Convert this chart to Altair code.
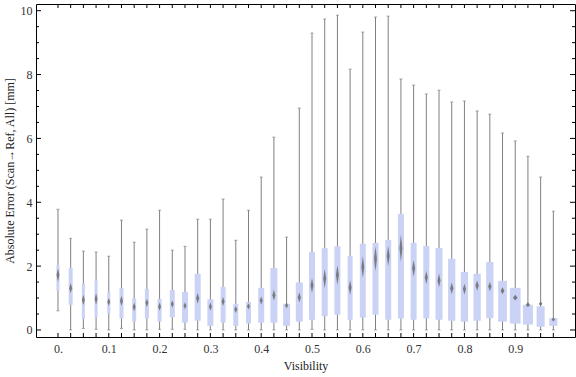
import altair as alt
import pandas as pd

# ---- data ----
visibility = [0.0, 0.025, 0.05, 0.075, 0.1, 0.125, 0.15, 0.175, 0.2, 0.225,
              0.25, 0.275, 0.3, 0.325, 0.35, 0.375, 0.4, 0.425, 0.45, 0.475,
              0.5, 0.525, 0.55, 0.575, 0.6, 0.625, 0.65, 0.675, 0.7, 0.725,
              0.75, 0.775, 0.8, 0.825, 0.85, 0.875, 0.9, 0.925, 0.95, 0.975]
whisker_low = [0.60, 0.0, 0.05, 0.02, 0.0, 0.05, 0.0, 0.0, 0.02, 0.02,
               0.02, 0.0, 0.0, 0.0, 0.0, 0.0, 0.0, 0.0, 0.0, 0.0,
               0.02, 0.0, 0.0, 0.0, 0.0, 0.0, 0.0, 0.0, 0.0, 0.0,
               0.0, 0.0, 0.0, 0.0, 0.0, 0.0, 0.0, 0.0, 0.0, 0.0]
q1 = [1.23, 0.79, 0.34, 0.40, 0.51, 0.36, 0.26, 0.36, 0.26, 0.40,
      0.23, 0.29, 0.13, 0.23, 0.13, 0.20, 0.23, 0.23, 0.13, 0.26,
      0.32, 0.43, 0.48, 0.32, 0.39, 0.48, 0.32, 0.36, 0.32, 0.36,
      0.32, 0.29, 0.26, 0.29, 0.37, 0.26, 0.20, 0.17, 0.10, 0.13]
median = [1.72, 1.31, 0.94, 0.97, 0.88, 0.91, 0.72, 0.85, 0.73, 0.81,
          0.76, 0.99, 0.73, 0.89, 0.64, 0.74, 0.92, 1.09, 0.77, 1.02,
          1.39, 1.61, 1.72, 1.33, 1.97, 2.23, 2.32, 2.56, 1.93, 1.64,
          1.55, 1.31, 1.28, 1.39, 1.36, 1.23, 1.01, 0.79, 0.82, 0.33]
q3 = [2.04, 1.94, 1.46, 1.57, 1.21, 1.32, 0.99, 1.29, 0.97, 1.25,
      1.19, 1.76, 0.96, 1.35, 0.82, 0.88, 1.32, 1.94, 0.82, 1.49,
      2.45, 2.56, 2.62, 2.32, 2.70, 2.73, 2.82, 3.64, 2.73, 2.63,
      2.57, 2.23, 1.82, 1.76, 2.13, 1.54, 1.32, 0.79, 0.74, 0.37]
whisker_high = [3.78, 2.87, 2.47, 2.44, 2.31, 3.44, 2.75, 3.16, 3.75, 2.50,
                2.62, 3.47, 3.47, 4.10, 2.81, 3.75, 4.79, 6.04, 2.91, 6.95,
                9.30, 9.74, 9.86, 8.17, 9.33, 9.80, 9.83, 7.86, 7.67, 7.39,
                7.51, 7.14, 7.17, 6.86, 6.76, 6.17, 5.92, 5.44, 4.79, 3.72]
# half-height of the median notch (diamond)
notch = [0.21, 0.16, 0.16, 0.18, 0.12, 0.16, 0.13, 0.13, 0.13, 0.11,
         0.11, 0.17, 0.13, 0.14, 0.11, 0.10, 0.13, 0.17, 0.09, 0.16,
         0.23, 0.30, 0.31, 0.23, 0.34, 0.39, 0.32, 0.42, 0.26, 0.21,
         0.21, 0.18, 0.17, 0.16, 0.14, 0.11, 0.09, 0.08, 0.08, 0.065]
# relative box weight (drawn as box width)
weight = [3, 4, 3, 3, 3, 4, 4, 4, 4, 5,
          6, 6, 6, 5, 5, 5, 6, 7, 7, 7,
          6, 6, 6, 5, 6, 6, 6, 6, 6, 6,
          7, 7.3, 7.3, 7.3, 7.3, 8.7, 10.7, 10, 8, 8]

y_major = [0, 2, 4, 6, 8, 10]
y_minor = [0.5, 1, 1.5, 2.5, 3, 3.5, 4.5, 5, 5.5, 6.5, 7, 7.5, 8.5, 9, 9.5]
x_labels = [0.0, 0.1, 0.2, 0.3, 0.4, 0.5, 0.6, 0.7, 0.8, 0.9]

W, H = 539, 333
X_DOMAIN = [-0.0334, 1.0078]
Y_DOMAIN = [-0.22, 10.21]
px_per_unit = W / (X_DOMAIN[1] - X_DOMAIN[0])

FONT = "Liberation Serif"
GRAY = "#808080"
BOX = "#cad2f5"

xs = alt.Scale(domain=X_DOMAIN, nice=False, zero=False)
ys = alt.Scale(domain=Y_DOMAIN, nice=False, zero=False)

X_TITLE = "Visibility"
Y_TITLE = "Absolute Error (Scan→Ref, All) [mm]"
x_axis = alt.Axis(values=x_labels, ticks=False, domain=False, grid=False,
                  labelExpr="datum.value == 0 ? '0.' : format(datum.value, '.1f')",
                  labelPadding=6, titlePadding=6)
y_axis = alt.Axis(values=y_major, ticks=False, domain=False, grid=False,
                  labelPadding=4, titleX=-20, titleY=H / 2,
                  titleAngle=270, titleAlign="center")


def X(field):
    return alt.X(field, scale=xs, title=X_TITLE, axis=x_axis)


def Y(field):
    return alt.Y(field, scale=ys, title=Y_TITLE, axis=y_axis)


df = pd.DataFrame({
    "vis": visibility, "lo": whisker_low, "q1": q1, "med": median,
    "q3": q3, "hi": whisker_high, "w": weight,
})

rows = []
for i, (v, m, h, w) in enumerate(zip(visibility, median, notch, weight)):
    dx = max(1.5, 0.22 * w) / px_per_unit
    rows.append({"id": i, "x": v - dx, "a": m, "b": m})
    rows.append({"id": i, "x": v, "a": m - h, "b": m + h})
    rows.append({"id": i, "x": v + dx, "a": m, "b": m})
dd = pd.DataFrame(rows)

base = alt.Chart(df)

whisk = base.mark_rule(color=GRAY, strokeWidth=1).encode(
    x=X("vis:Q"), y=Y("lo:Q"), y2="hi:Q")
cap_hi = base.mark_tick(orient="horizontal", size=3, thickness=1, color=GRAY).encode(
    x=X("vis:Q"), y=Y("hi:Q"))
cap_lo = base.mark_tick(orient="horizontal", size=3, thickness=1, color=GRAY).encode(
    x=X("vis:Q"), y=Y("lo:Q"))

boxes = base.mark_bar(color=BOX, opacity=1).encode(
    x=X("vis:Q"), y=Y("q1:Q"), y2="q3:Q",
    size=alt.Size("w:Q", scale=None, legend=None),
)

diam = alt.Chart(dd).mark_area(color="#6c6c6c", opacity=0.85, interpolate="linear").encode(
    x=X("x:Q"), y=Y("a:Q"), y2="b:Q", detail="id:N")

tick_df = pd.DataFrame({"vis": visibility})
ymaj_df = pd.DataFrame({"v": y_major})
ymin_df = pd.DataFrame({"v": y_minor})

bot_ticks = alt.Chart(tick_df).mark_rule(color="black").encode(
    x=X("vis:Q"), y=alt.value(H), y2=alt.value(H - 4))
top_ticks = alt.Chart(tick_df).mark_rule(color="black").encode(
    x=X("vis:Q"), y=alt.value(0), y2=alt.value(4))
lmaj = alt.Chart(ymaj_df).mark_rule(color="black").encode(
    y=Y("v:Q"), x=alt.value(0), x2=alt.value(5))
lmin = alt.Chart(ymin_df).mark_rule(color="black").encode(
    y=Y("v:Q"), x=alt.value(0), x2=alt.value(3))
rmaj = alt.Chart(ymaj_df).mark_rule(color="black").encode(
    y=Y("v:Q"), x=alt.value(W), x2=alt.value(W - 5))
rmin = alt.Chart(ymin_df).mark_rule(color="black").encode(
    y=Y("v:Q"), x=alt.value(W), x2=alt.value(W - 3))

chart = alt.layer(
    whisk, cap_hi, cap_lo, boxes, diam,
    bot_ticks, top_ticks, lmaj, lmin, rmaj, rmin,
).properties(
    width=W, height=H,
    padding={"left": 36, "top": 4, "right": 1, "bottom": 40},
    autosize=alt.AutoSizeParams(type="none"),
    background="white",
).configure_view(
    stroke="black", strokeWidth=1,
).configure_axis(
    labelFont=FONT, labelFontSize=12, labelColor="#333333",
    titleFont=FONT, titleFontSize=12, titleColor="#222222", titleFontWeight="normal",
)

chart.save("out.html", embed_options={"renderer": "svg", "actions": False})
